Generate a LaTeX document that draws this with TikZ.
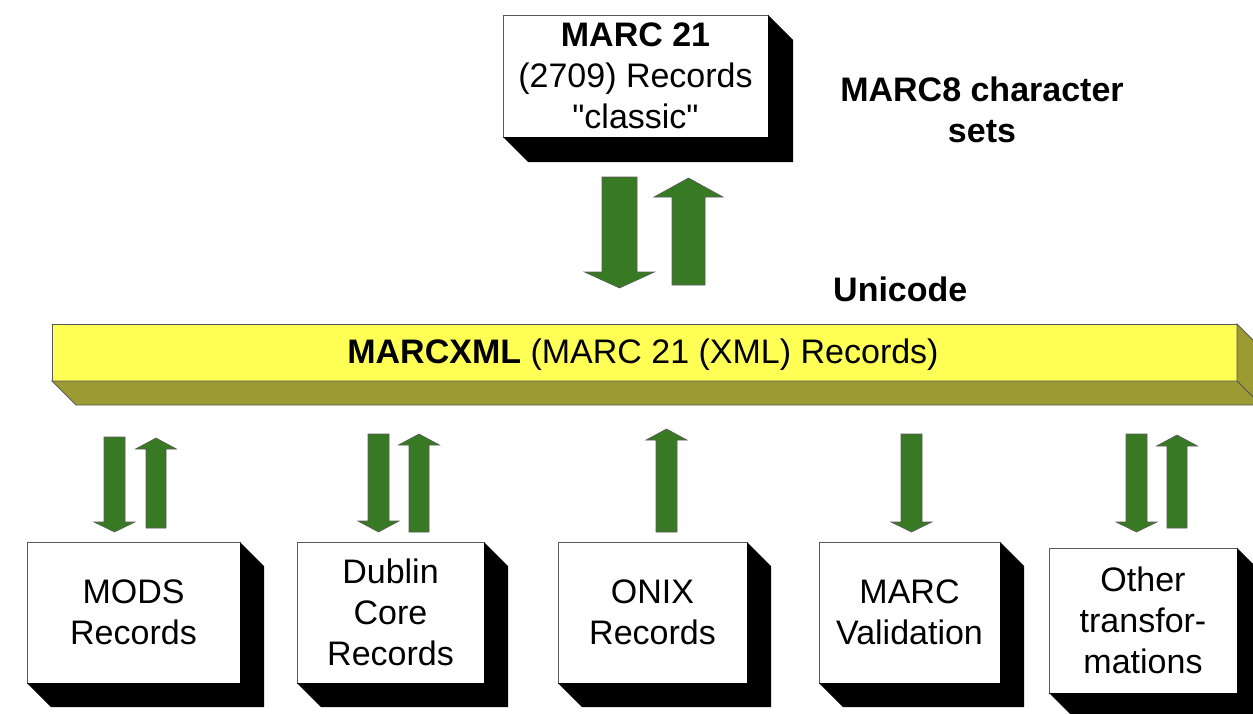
\documentclass[tikz,border=0pt]{standalone}
\usepackage{fontspec}
\setmainfont{Liberation Sans}[Ligatures=TeXOff]
\usetikzlibrary{calc}

\definecolor{arrowgreen}{RGB}{56,122,35}
\definecolor{baryellow}{RGB}{255,255,85}
\definecolor{barolive}{RGB}{156,154,50}
\definecolor{edgegray}{RGB}{90,90,90}

% block arrow: x, tail y, head-base y, tip y, half shaft width, half head width
\newcommand{\blockarrow}[6]{%
  \filldraw[flow] (#1-#5,#2) -- (#1+#5,#2) -- (#1+#5,#3) -- (#1+#6,#3)
    -- (#1,#4) -- (#1-#6,#3) -- (#1-#5,#3) -- cycle;}

% solid extrusion behind a box node: node name, depth
\newcommand{\solidslab}[2]{%
  \fill[black] (#1.north east) -- ++(#2,#2) -- ($(#1.south east)+(#2,#2)$)
    -- ($(#1.south west)+(#2,#2)$) -- (#1.south west) -- (#1.south east) -- cycle;}

% shaded extrusion with visible edges: node name, depth
\newcommand{\barslab}[2]{%
  \filldraw[barface] (#1.north east) -- ++(#2,#2) -- ($(#1.south east)+(#2,#2)$)
    -- (#1.south east) -- cycle;
  \filldraw[barface] (#1.south west) -- (#1.south east) -- ($(#1.south east)+(#2,#2)$)
    -- ($(#1.south west)+(#2,#2)$) -- cycle;}

\begin{document}
\begin{tikzpicture}[x=1pt,y=-1pt,
  txt/.style={font=\fontsize{34}{41}\selectfont},
  recbox/.style={txt, draw=edgegray, line width=0.8pt, fill=white, align=center,
    inner sep=0pt, outer sep=0pt},
  barbox/.style={draw=edgegray, line width=0.8pt, fill=baryellow, inner sep=0pt, outer sep=0pt},
  barface/.style={draw=edgegray, line width=0.8pt, fill=barolive},
  flow/.style={fill=arrowgreen, draw=edgegray, line width=0.6pt},
  label/.style={txt, inner sep=0pt, align=center}]

\useasboundingbox (0,0) rectangle (1253,713);

% top record box
\node[recbox, minimum width=265pt, minimum height=122pt] (marc) at (635.5,76)
  {\textbf{MARC 21}\\(2709) Records\\"classic"};
\solidslab{marc}{25}

\node[label] (charsets) at (982,110) {\textbf{MARC8 character}\\\textbf{sets}};
\node[label, anchor=base west] (unicode) at (833,301) {\textbf{Unicode}};

% conversion arrows between MARC 21 and MARCXML
\blockarrow{619.5}{177}{272}{288}{17.5}{35}
\blockarrow{688.5}{285}{197}{178}{16.5}{34.5}

% MARCXML bar
\node[barbox, minimum width=1185pt, minimum height=57pt] (xml) at (644.5,352.5) {};
\barslab{xml}{24}
\node[txt, inner sep=0pt, anchor=base] (xmltext) at (643,363)
  {\textbf{MARCXML} (MARC 21 (XML) Records)};

% bottom boxes
\node[recbox, minimum width=213pt, minimum height=141pt] (mods) at (133.5,612.5)
  {MODS\\Records};
\solidslab{mods}{24}
\node[recbox, minimum width=187pt, minimum height=141pt] (dc) at (390.5,612.5)
  {Dublin\\Core\\Records};
\solidslab{dc}{24}
\node[recbox, minimum width=189pt, minimum height=141pt] (onix) at (652.5,612.5)
  {ONIX\\Records};
\solidslab{onix}{24}
\node[recbox, minimum width=181pt, minimum height=141pt] (valid) at (909.5,612.5)
  {MARC\\Validation};
\solidslab{valid}{24}
\node[recbox, minimum width=188pt, minimum height=145pt] (other) at (1143,620.5)
  {Other\\transfor-\\mations};
\solidslab{other}{24}

% arrows between MARCXML and the bottom boxes
\blockarrow{114.5}{437}{522}{532}{10.5}{20.5}
\blockarrow{156}{528}{449}{438}{10}{20.5}
\blockarrow{378.5}{434}{521}{532}{10.5}{20.5}
\blockarrow{419}{532}{445}{434}{10}{20.5}
\blockarrow{666.5}{532}{440}{429}{10.5}{20.5}
\blockarrow{911.5}{434}{522}{532}{10.5}{20.5}
\blockarrow{1136.5}{434}{522}{532}{10.5}{20.5}
\blockarrow{1177}{528}{446}{435}{10}{20.5}

\end{tikzpicture}
\end{document}
